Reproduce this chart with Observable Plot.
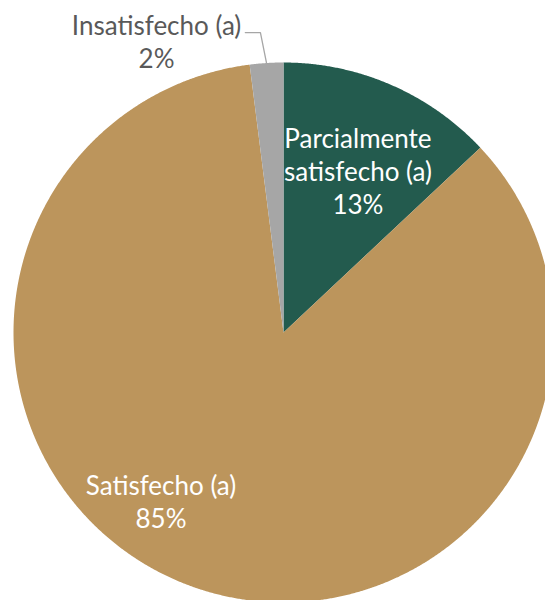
<!DOCTYPE html>
<html><head><meta charset="utf-8">
<script src="https://cdn.jsdelivr.net/npm/d3@7"></script>
<script src="https://cdn.jsdelivr.net/npm/@observablehq/plot@0.6"></script>
<style>body{margin:0;background:#fff;overflow:hidden} #chart svg{overflow:hidden;display:block}</style>
</head><body><div id="chart"></div>
<script>
const categories = ["Parcialmente satisfecho (a)", "Satisfecho (a)", "Insatisfecho (a)"];
const percentages = [13, 85, 2];
const labelTexts = ["Parcialmente\nsatisfecho (a)", "Satisfecho (a)", "Insatisfecho (a)"];
const colors = ["#235B4E", "#BC955C", "#A6A6A6"];

// layout (not data): label radius (in pie radii) and angle tweak (deg)
const placement = [{r: 0.66, da: 1.3, inside: true}, {r: 0.77, da: 16.3, inside: true}, {r: 1.179, da: -19.9, inside: false}];

const arcs = d3.pie().sort(null).value(d => d)(percentages);
const rad = Math.PI / 180;

const wedgePoints = arcs.flatMap((a, i) => {
  const n = Math.max(2, Math.ceil((a.endAngle - a.startAngle) / (Math.PI / 720)));
  const pts = [{cat: categories[i], x: 0, y: 0}];
  for (let k = 0; k <= n; k++) {
    const t = a.startAngle + (a.endAngle - a.startAngle) * k / n;
    pts.push({cat: categories[i], x: Math.sin(t), y: Math.cos(t)});
  }
  pts.push({cat: categories[i], x: 0, y: 0});
  return pts;
});

const labels = arcs.map((a, i) => {
  const mid = (a.startAngle + a.endAngle) / 2 + placement[i].da * rad;
  return {
    x: placement[i].r * Math.sin(mid),
    y: placement[i].r * Math.cos(mid),
    text: labelTexts[i] + "\n" + percentages[i] + "%",
    inside: placement[i].inside
  };
});

// leader line for the outside label
const leader = [];
arcs.forEach((a, i) => {
  if (placement[i].inside) return;
  const mid = (a.startAngle + a.endAngle) / 2;
  const e = mid - 0.8 * rad;
  const p0 = {x: Math.sin(mid), y: Math.cos(mid)};
  const p1 = {x: 1.114 * Math.sin(e), y: 1.114 * Math.cos(e)};
  const p2 = {x: p1.x - 0.056, y: p1.y};
  leader.push(p0, p1, p2);
});

const plot = Plot.plot({
  width: 545,
  height: 600,
  margin: 0,
  x: {domain: [-1, 1], range: [13, 553], axis: null},
  y: {domain: [-1, 1], range: [602, 62], axis: null},
  color: {domain: categories, range: colors},
  style: {fontFamily: "Lato", background: "#fff"},
  marks: [
    Plot.line(wedgePoints, {x: "x", y: "y", z: "cat", fill: "cat", stroke: "none", curve: "linear"}),
    Plot.line(leader, {x: "x", y: "y", stroke: "#A6A6A6", strokeWidth: 1.3}),
    Plot.text(labels.filter(d => d.inside), {x: "x", y: "y", text: "text", fill: "#ffffff", fontSize: 26, lineHeight: 1.27}),
    Plot.text(labels.filter(d => !d.inside), {x: "x", y: "y", text: "text", fill: "#595959", fontSize: 26, lineHeight: 1.27})
  ]
});
document.getElementById("chart").append(plot);
</script>
</body></html>
